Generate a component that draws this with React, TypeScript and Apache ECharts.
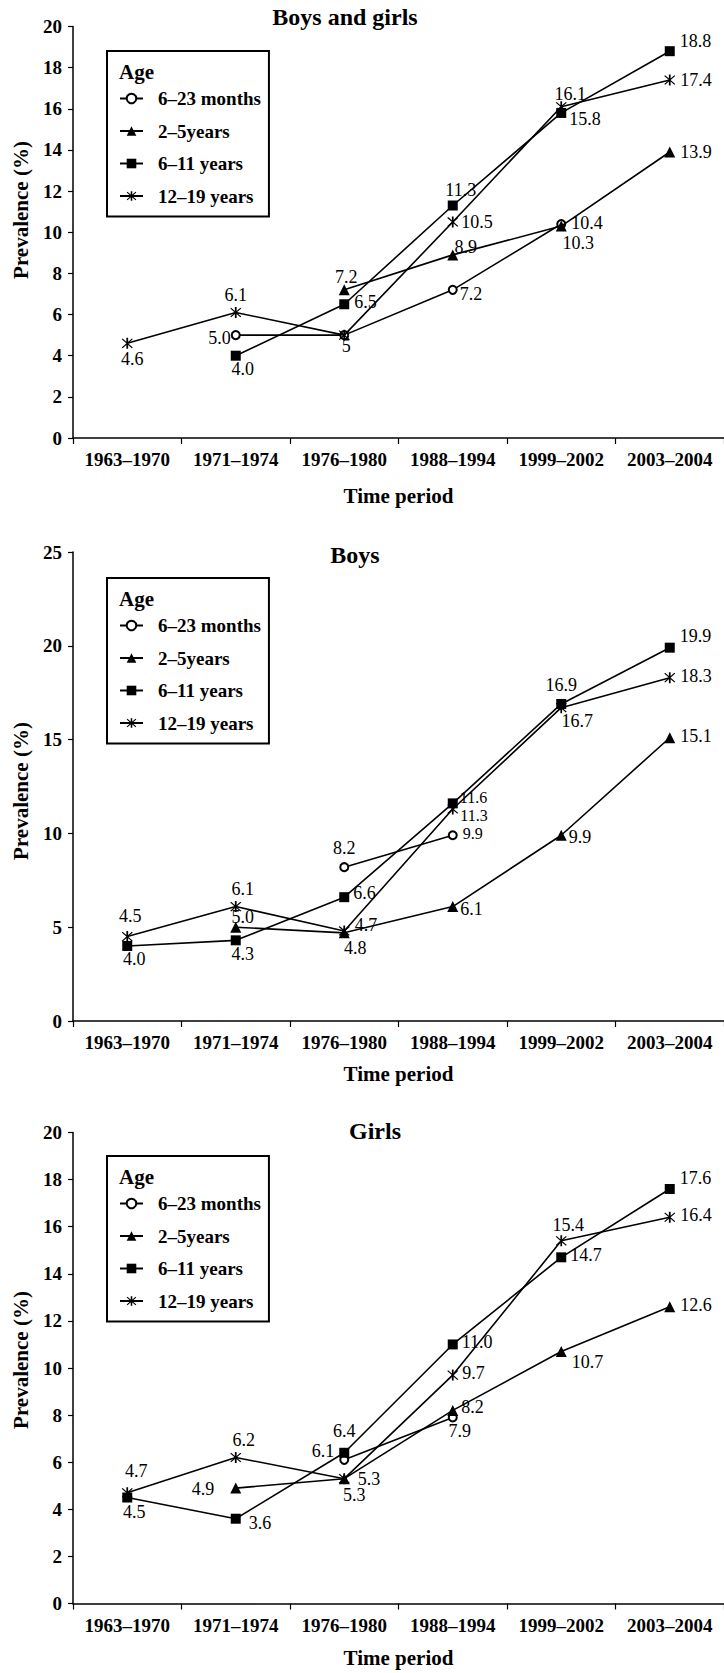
import React, { useEffect, useRef } from "react";
import * as echarts from "echarts";

const categories = ["1963–1970", "1971–1974", "1976–1980", "1988–1994", "1999–2002", "2003–2004"];
const seriesNames = ["6–23 months", "2–5years", "6–11 years", "12–19 years"];
const chartTitles = ["Boys and girls", "Boys", "Girls"];
const yMax = [20, 25, 20];
const yStep = [2, 5, 2];

// Boys and girls
const allMonths = [null, 5.0, 5.0, 7.2, 10.4, null];
const allPreschool = [null, null, 7.2, 8.9, 10.3, 13.9];
const allSchool = [null, 4.0, 6.5, 11.3, 15.8, 18.8];
const allTeen = [4.6, 6.1, 5.0, 10.5, 16.1, 17.4];
// Boys
const boysMonths = [null, null, 8.2, 9.9, null, null];
const boysPreschool = [null, 5.0, 4.7, 6.1, 9.9, 15.1];
const boysSchool = [4.0, 4.3, 6.6, 11.6, 16.9, 19.9];
const boysTeen = [4.5, 6.1, 4.8, 11.3, 16.7, 18.3];
// Girls
const girlsMonths = [null, null, 6.1, 7.9, null, null];
const girlsPreschool = [null, 4.9, 5.3, 8.2, 10.7, 12.6];
const girlsSchool = [4.5, 3.6, 6.4, 11.0, 14.7, 17.6];
const girlsTeen = [4.7, 6.2, 5.3, 9.7, 15.4, 16.4];

// label placement: [position, dx, dy, textOverride?, fontSize?]; null = no label
type LP = [string, number, number, (string | null)?, number?] | null;
const allLabels: LP[][] = [
  [null, ["l", 5, 3], null, ["r", -3, 4], ["r", 0, -1], null],
  [null, null, ["t", 2, 7], ["t", 13, 12], ["b", 17, -3], ["r", 0, 0]],
  [null, ["b", 7, -6], ["r", 0, -2], ["t", 8, 3], ["r", -2, 6], ["r", 0, -10]],
  [["b", 5, -4], ["t", 0, 2], ["b", 2, -9, "5"], ["r", -2, 0], ["t", 9, 7], ["r", 0, 0]],
];
const boysLabels: LP[][] = [
  [null, null, ["t", 0, 0], ["r", 0, -2, null, 16], null, null],
  [null, ["t", 7, 9], ["r", 0, -8], ["r", -3, 2], ["r", -3, 2], ["r", 0, -2]],
  [["b", 7, -6], ["b", 7, -5], ["r", -1, -4], ["r", -3, -6, null, 16], ["t", 0, 0], ["r", 0, -12]],
  [["t", 3, -1], ["t", 7, 2], ["b", 11, -2], ["r", -3, 6, null, 16], ["b", 16, -6], ["r", 0, -2]],
];
const girlsLabels: LP[][] = [
  [null, null, ["l", 0, -9], ["b", 7, -5], null, null],
  [null, ["l", -11, 1], ["b", 10, -3], ["r", -2, -3], ["r", 0, 10], ["r", 0, -2]],
  [["b", 7, -5], ["r", 3, 4], ["t", 0, -3], ["r", -1, -2], ["r", -1, -2], ["r", 0, -11]],
  [["t", 9, -2], ["t", 8, 2], ["r", 3, 0], ["r", -1, -2], ["t", 7, 4], ["r", 0, -2]],
];

const STAR =
  "path://M4.3,0L5.7,0L5.7,10L4.3,10Z M1.3,0.6L9.4,8.7L8.7,9.4L0.6,1.3Z M8.7,0.6L9.4,1.3L1.3,9.4L0.6,8.7Z";
const symbols = ["emptyCircle", "triangle", "rect", STAR];
const symbolSizes = [8, 11, 10, 11];

const SERIF = '"Liberation Serif", "Times New Roman", serif';
const posMap: Record<string, string> = { t: "top", b: "bottom", l: "left", r: "right" };

export default function App() {
  const ref = useRef<HTMLDivElement>(null);
  useEffect(() => {
    document.body.style.margin = "0";
    const chart = echarts.init(ref.current!, undefined, { renderer: "svg" });

    const panels = [
      { values: [allMonths, allPreschool, allSchool, allTeen], labels: allLabels, top: 26.5, height: 411.5, titleX: 345, titleY: 17, yTitleY: 210, legendTop: 51, nameGap: 47 },
      { values: [boysMonths, boysPreschool, boysSchool, boysTeen], labels: boysLabels, top: 552, height: 469, titleX: 355, titleY: 555, yTitleY: 791, legendTop: 578, nameGap: 42 },
      { values: [girlsMonths, girlsPreschool, girlsSchool, girlsTeen], labels: girlsLabels, top: 1132.5, height: 471, titleX: 375, titleY: 1131, yTitleY: 1360, legendTop: 1156, nameGap: 44 },
    ];

    const grid: any[] = [];
    const xAxis: any[] = [];
    const yAxis: any[] = [];
    const series: any[] = [];
    const legend: any[] = [];
    const graphic: any[] = [];

    panels.forEach((p, pi) => {
      grid.push({ left: 73, top: p.top, width: 659, height: p.height });
      xAxis.push({
        type: "category",
        gridIndex: pi,
        data: categories,
        boundaryGap: true,
        axisLine: { lineStyle: { color: "#000", width: 1.5 } },
        axisTick: { show: true, length: 6, lineStyle: { color: "#000", width: 1.2 } },
        axisLabel: { interval: 0, margin: 12, color: "#000", fontFamily: SERIF, fontWeight: "bold", fontSize: 19 },
        name: "Time period",
        nameLocation: "middle",
        nameGap: p.nameGap,
        nameTextStyle: { color: "#000", fontFamily: SERIF, fontWeight: "bold", fontSize: 21 },
        splitLine: { show: false },
      });
      yAxis.push({
        type: "value",
        gridIndex: pi,
        min: 0,
        max: yMax[pi],
        interval: yStep[pi],
        axisLine: { show: true, lineStyle: { color: "#000", width: 1.5 } },
        axisTick: { show: true, length: 5, lineStyle: { color: "#000", width: 1.2 } },
        axisLabel: { margin: 11, color: "#000", fontFamily: SERIF, fontWeight: "bold", fontSize: 19 },
        splitLine: { show: false },
      });
      p.values.forEach((vals, si) => {
        const specs = p.labels[si];
        series.push({
          type: "line",
          name: seriesNames[si],
          xAxisIndex: pi,
          yAxisIndex: pi,
          symbol: symbols[si],
          symbolSize: symbolSizes[si],
          showSymbol: true,
          connectNulls: false,
          lineStyle: { color: "#000", width: 1.6 },
          itemStyle: { color: "#000", borderColor: "#000", borderWidth: si === 0 ? 1.5 : 0 },
          emphasis: { disabled: true },
          z: 2 + si,
          data: vals.map((v, i) => {
            if (v == null) return null;
            const s = specs[i];
            if (!s) return { value: v, label: { show: false } };
            return {
              value: v,
              label: {
                show: true,
                position: posMap[s[0]],
                offset: [s[1], s[2]],
                formatter: s[3] ?? (v as number).toFixed(1),
                color: "#000",
                fontFamily: SERIF,
                fontSize: s[4] ?? 18,
              },
            };
          }),
        });
      });
      legend.push({
        data: seriesNames,
        orient: "vertical",
        left: 107,
        top: p.legendTop,
        padding: [38, 8, 11, 12],
        itemGap: 13.5,
        itemWidth: 23,
        itemHeight: 12,
        borderColor: "#000",
        borderWidth: 2,
        selectedMode: false,
        textStyle: { color: "#000", fontFamily: SERIF, fontWeight: "bold", fontSize: 19, padding: [0, 0, 0, 10] },
      });
      graphic.push({
        type: "text",
        x: p.titleX,
        y: p.titleY,
        style: { text: chartTitles[pi], fill: "#000", font: `bold 24px ${SERIF}`, align: "center", verticalAlign: "middle" },
      });
      graphic.push({
        type: "text",
        x: 119,
        y: p.legendTop + 21,
        style: { text: "Age", fill: "#000", font: `bold 21px ${SERIF}`, align: "left", verticalAlign: "middle" },
      });
      graphic.push({
        type: "text",
        x: 21,
        y: p.yTitleY,
        rotation: Math.PI / 2,
        style: { text: "Prevalence (%)", fill: "#000", font: `bold 21px ${SERIF}`, align: "center", verticalAlign: "middle" },
      });
    });

    chart.setOption({
      animation: false,
      backgroundColor: "#fff",
      grid,
      xAxis,
      yAxis,
      series,
      legend,
      graphic,
    });
    return () => chart.dispose();
  }, []);
  return <div ref={ref} style={{ position: "absolute", left: 0, top: 0, width: 724, height: 1673 }} />;
}
